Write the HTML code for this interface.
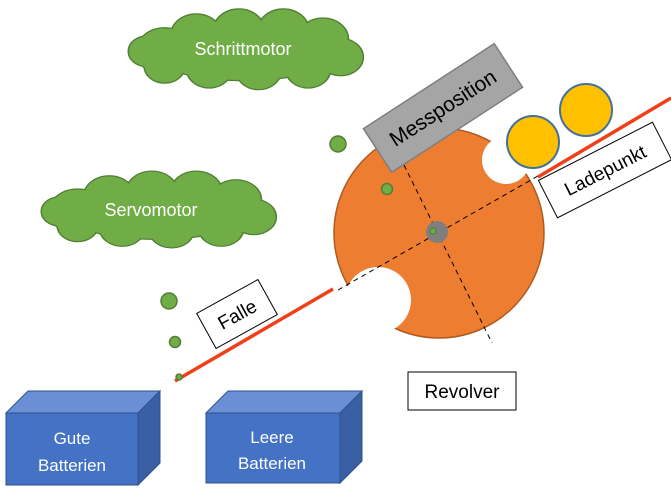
<!DOCTYPE html>
<html><head><meta charset="utf-8"><style>
html,body{margin:0;padding:0;background:#fff;width:671px;height:492px;overflow:hidden}
text{font-family:"Liberation Sans","DejaVu Sans",sans-serif}
</style></head><body>
<svg width="671" height="492" viewBox="0 0 671 492" xmlns="http://www.w3.org/2000/svg">
<defs>
<g id="cb">
<circle cx="40" cy="48" r="28"/><circle cx="72" cy="28" r="25"/><circle cx="115" cy="22" r="25"/>
<circle cx="160" cy="22" r="25"/><circle cx="200" cy="33" r="25"/><circle cx="218" cy="55" r="22"/>
<circle cx="185" cy="70" r="22"/><circle cx="135" cy="72" r="22"/><circle cx="85" cy="70" r="22"/>
<circle cx="40" cy="66" r="20"/><circle cx="22" cy="48" r="18"/><ellipse cx="120" cy="48" rx="95" ry="35"/>
</g>
<mask id="rev">
<rect width="671" height="492" fill="#fff"/>
<circle cx="506" cy="160" r="24" fill="#000"/>
<circle cx="378" cy="300" r="33" fill="#000"/>
</mask>
</defs>
<g transform="translate(125,12) scale(0.99,0.82)">
<use href="#cb" fill="#507e32" stroke="#507e32" stroke-width="3"/>
<use href="#cb" fill="#70ad47"/>
</g>
<text x="243" y="55" font-size="18" fill="#fff" text-anchor="middle">Schrittmotor</text>
<g transform="translate(38,174) scale(0.99,0.78)">
<use href="#cb" fill="#507e32" stroke="#507e32" stroke-width="3"/>
<use href="#cb" fill="#70ad47"/>
</g>
<text x="151" y="216" font-size="18" fill="#fff" text-anchor="middle">Servomotor</text>
<circle cx="439" cy="233" r="105" fill="#ed7d31" stroke="#ae5a21" stroke-width="1.5" mask="url(#rev)"/>
<line x1="338" y1="290" x2="545" y2="172" stroke="#000" stroke-width="1" stroke-dasharray="5,4"/>
<line x1="404" y1="165" x2="492" y2="343" stroke="#000" stroke-width="1" stroke-dasharray="5,4"/>
<circle cx="437" cy="232" r="11" fill="#7f7f7f"/>
<circle cx="433" cy="231" r="3" fill="#70ad47" stroke="#507e32"/>
<line x1="175" y1="381" x2="333" y2="289" stroke="#f0401a" stroke-width="3.5"/>
<line x1="538" y1="177" x2="671" y2="98" stroke="#f0401a" stroke-width="3.5"/>
<g transform="translate(443,108) rotate(-33)">
<rect x="-78" y="-26" width="156" height="52" fill="#a5a5a5" stroke="#7f7f7f" stroke-width="1.5"/>
<text x="0" y="7" font-size="21" text-anchor="middle" fill="#000">Messposition</text>
</g>
<circle cx="533" cy="142" r="26" fill="#ffc000" stroke="#41719c" stroke-width="2"/>
<circle cx="586" cy="110" r="26" fill="#ffc000" stroke="#41719c" stroke-width="2"/>
<g transform="translate(605,170) rotate(-27)">
<rect x="-64" y="-21" width="128" height="42" fill="#fff" stroke="#000" stroke-width="1"/>
<text x="0" y="7" font-size="19" text-anchor="middle">Ladepunkt</text>
</g>
<g transform="translate(237,314) rotate(-29)">
<rect x="-35" y="-20" width="70" height="40" fill="#fff" stroke="#000" stroke-width="1"/>
<text x="0" y="7" font-size="19" text-anchor="middle">Falle</text>
</g>
<rect x="408" y="372" width="108" height="38" fill="#fff" stroke="#000" stroke-width="1"/>
<text x="462" y="398" font-size="19" text-anchor="middle">Revolver</text>
<g fill="#70ad47" stroke="#507e32" stroke-width="1.5">
<circle cx="338" cy="144" r="8"/><circle cx="387" cy="189" r="5.5"/>
<circle cx="169" cy="301" r="8"/><circle cx="175" cy="342" r="5.5"/><circle cx="179" cy="377" r="3"/>
</g>
<g stroke="#2f528f" stroke-width="1">
<polygon points="6,413 28,391 160,391 138,413" fill="#6a8fd4"/>
<polygon points="138,413 160,391 160,463 138,485" fill="#3a5fa3"/>
<rect x="6" y="413" width="132" height="72" fill="#4472c4"/>
<polygon points="206,413 228,391 362,391 340,413" fill="#6a8fd4"/>
<polygon points="340,413 362,391 362,461 340,483" fill="#3a5fa3"/>
<rect x="206" y="413" width="134" height="70" fill="#4472c4"/>
</g>
<text x="72" y="444" font-size="17" fill="#fff" text-anchor="middle">Gute</text>
<text x="72" y="471" font-size="17" fill="#fff" text-anchor="middle">Batterien</text>
<text x="272" y="443" font-size="17" fill="#fff" text-anchor="middle">Leere</text>
<text x="272" y="469" font-size="17" fill="#fff" text-anchor="middle">Batterien</text>
</svg>
</body></html>
